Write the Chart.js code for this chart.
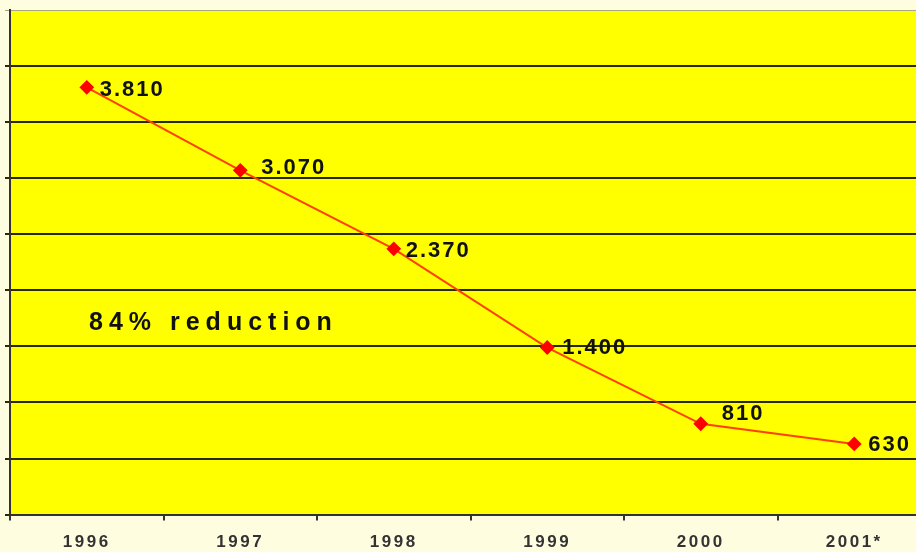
<!DOCTYPE html>
<html>
<head>
<meta charset="utf-8">
<script src="https://cdn.jsdelivr.net/npm/chart.js@4/dist/chart.umd.min.js"></script>
<style>
body{margin:0;background:#fffde0;overflow:hidden}
#wrap{width:916px;height:552px;overflow:hidden}
</style>
</head>
<body>
<div id="wrap"><canvas id="chart" width="939" height="565"></canvas></div>
<script>

const years=['1996','1997','1998','1999','2000','2001*']
const cases=[3810,3070,2370,1490,810,630]
const caseLabels=['3.810','3.070','2.370','1.400','810','630']
const yMin=0
const yMax=4500
const yStep=500
const note='84% reduction'

// label offsets from each point, px
const labelShift=[[13,3],[21,-2],[12,2],[15,0],[21,-10],[14,1]]

const paint={
id:'paint',
beforeDraw(chart){
const ctx=chart.ctx
const a=chart.chartArea
ctx.save()
ctx.fillStyle='#fffde0'
ctx.fillRect(0,0,chart.width,chart.height)
ctx.fillStyle='#ffff00'
ctx.fillRect(a.left,a.top,a.right-a.left,a.bottom-a.top)
ctx.restore()
ctx.letterSpacing='2.5px'
},
afterDatasetsDraw(chart){
const ctx=chart.ctx
const pts=chart.getDatasetMeta(0).data
ctx.save()
ctx.fillStyle='#111'
ctx.textBaseline='middle'
ctx.textAlign='left'
ctx.font='bold 22px "Liberation Sans", Arial, sans-serif'
ctx.letterSpacing='2px'
pts.forEach((p,i)=>{
ctx.fillText(caseLabels[i],p.x+labelShift[i][0],p.y+labelShift[i][1])
})
ctx.font='bold 25px "Liberation Sans", Arial, sans-serif'
ctx.letterSpacing='6px'
ctx.fillText(note,chart.chartArea.left+79,chart.scales.y.getPixelForValue(1710))
ctx.restore()
}
}

new Chart(
document.getElementById('chart'),
{
type:'line',
data:{
labels:years,
datasets:[{
data:cases,
borderColor:'#ff4000',
borderWidth:2,
pointStyle:'rectRot',
pointRadius:6,
pointBackgroundColor:'#ff0000',
pointBorderColor:'#ff0000',
tension:0
}]
},
options:{
responsive:false,
animation:false,
layout:{padding:{left:5,top:10,right:0,bottom:0}},
plugins:{legend:{display:false},tooltip:{enabled:false}},
scales:{
x:{
offset:true,
grid:{offset:true,drawOnChartArea:false,color:'#333',lineWidth:2,tickLength:6},
border:{color:'#333',width:2},
ticks:{color:'#333',padding:12,font:{family:'"Liberation Sans", Arial, sans-serif',size:17,weight:'bold'}}
},
y:{
min:yMin,
max:yMax,
ticks:{display:false,stepSize:yStep},
grid:{
color:c=>c.tick&&c.tick.value===yMax?'#a8a880':'#2a2a00',
lineWidth:c=>c.tick&&c.tick.value===yMax?1:2,
tickLength:5
},
border:{color:'#333',width:2}
}
}
},
plugins:[paint]
})

</script>
</body>
</html>
